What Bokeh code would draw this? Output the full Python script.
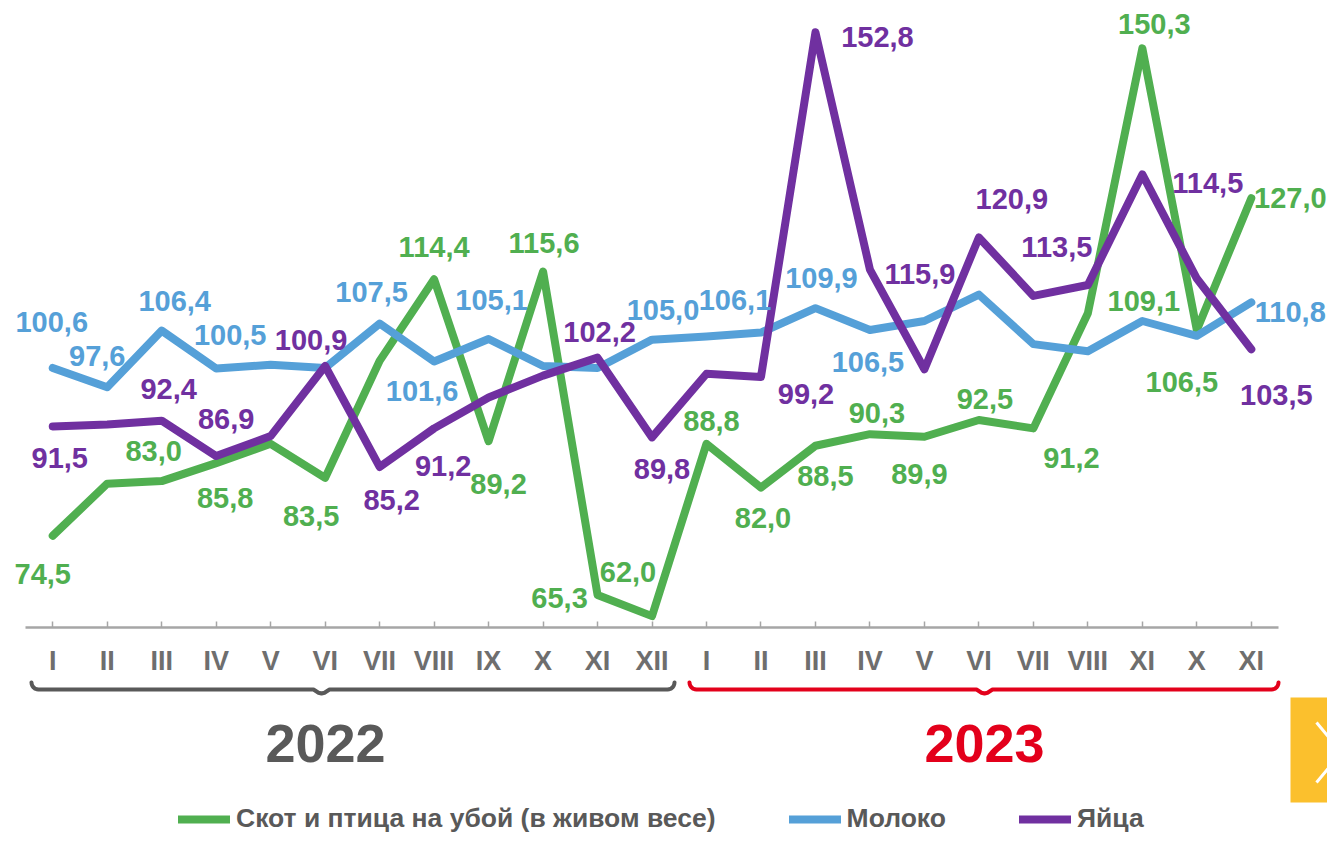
from bokeh.plotting import figure
from bokeh.models import Range1d, FixedTicker, ColumnDataSource, Legend, LegendItem
from bokeh.embed import file_html
from bokeh.resources import INLINE
from bokeh.core.properties import value
import math

# ---------------- data ----------------
months_2022 = ["I", "II", "III", "IV", "V", "VI", "VII", "VIII", "IX", "X", "XI", "XII"]
months_2023 = ["I", "II", "III", "IV", "V", "VI", "VII", "VIII", "XI", "X", "XI"]
tick_labels = months_2022 + months_2023
years = ["2022", "2023"]
series_names = ["Скот и птица на убой (в живом весе)", "Молоко", "Яйца"]

livestock = [74.5, 82.6, 83.0, 85.8, 88.8, 83.5, 101.7, 114.4, 89.2, 115.6, 65.3, 62.0,
             88.8, 82.0, 88.5, 90.3, 89.9, 92.5, 91.2, 109.1, 150.3, 106.5, 127.0]
milk = [100.6, 97.6, 106.4, 100.5, 101.1, 100.6, 107.5, 101.6, 105.1, 100.9, 100.6, 105.0,
        105.5, 106.1, 109.9, 106.5, 107.9, 112.0, 104.3, 103.2, 107.9, 105.6, 110.8]
eggs = [91.5, 91.8, 92.4, 86.9, 90.0, 100.9, 85.2, 91.2, 96.0, 99.4, 102.2, 89.8,
        99.7, 99.2, 152.8, 115.9, 100.4, 120.9, 111.8, 113.5, 130.7, 114.5, 103.5]

# which points carry a value label in the original
livestock_labelled = [0, 2, 3, 5, 7, 8, 9, 10, 11, 12, 13, 14, 15, 16, 17, 18, 19, 20, 21, 22]
milk_labelled = [0, 1, 2, 3, 6, 7, 8, 11, 13, 14, 15, 22]
eggs_labelled = [0, 2, 3, 5, 6, 7, 10, 11, 13, 14, 15, 17, 19, 21, 22]

# ---------------- layout / style ----------------
GREEN = "#50AF50"
BLUE = "#55A0D8"
PURPLE = "#7030A0"
RED = "#E3001B"
DARK = "#595959"

# label offsets (pixels) per labelled point
livestock_off = {0: (-10, 38), 2: (-8, -30), 3: (9, 35), 5: (-14, 38), 7: (0, -32), 8: (10, 43),
                 9: (1, -28), 10: (-38, 3), 11: (-24, -44), 12: (5, -23), 13: (2, 30), 14: (10, 30),
                 15: (7, -21), 16: (-5, 37), 17: (6, -21), 18: (38, 30), 19: (56, -12), 20: (12, -24),
                 21: (-15, 52), 22: (39, 0)}
milk_off = {0: (-1, -46), 1: (-10, -31), 2: (13, -30), 3: (14, -34), 6: (-8, -32), 7: (-12, 29),
            8: (3, -39), 11: (11, -30), 13: (-26, -33), 14: (6, -30), 15: (-2, 32), 22: (39, 10)}
eggs_off = {0: (7, 32), 2: (7, -32), 3: (10, -37), 5: (-14, -26), 6: (12, 33), 7: (9, 38),
            10: (2, -26), 11: (10, 32), 13: (45, 17), 14: (62, 5), 15: (50, 4), 17: (33, -38),
            19: (-31, -38), 21: (11, -96), 22: (25, 46)}

# pixel calibration (figure pixels)
X0, DX = 52.24, 54.48      # centre of first category, category width
Y0, V0, DY = 371.3, 100.0, 6.43


def px2x(px):
    return (px - X0) / DX


def py2v(py):
    return V0 - (py - Y0) / DY


W, H = 1327, 834
n = len(tick_labels)
xs = list(range(n))

p = figure(width=W, height=H, output_backend="svg", toolbar_location=None,
           x_range=Range1d(px2x(0), px2x(W)), y_range=Range1d(py2v(H), py2v(0)),
           min_border=0, min_border_left=0, min_border_right=0, min_border_top=0, min_border_bottom=0)
p.outline_line_color = None
p.xgrid.visible = False
p.ygrid.visible = False
p.yaxis.visible = False
p.background_fill_color = "white"

ax = p.xaxis[0]
ax.fixed_location = py2v(627)
ax.bounds = (-0.5, n - 0.5)
ax.ticker = FixedTicker(ticks=xs)
ax.major_label_overrides = {i: lab for i, lab in enumerate(tick_labels)}
ax.axis_line_color = "#A6A6A6"
ax.axis_line_width = 2.5
ax.major_tick_line_color = "#A6A6A6"
ax.major_tick_line_width = 1.5
ax.major_tick_in = 6
ax.major_tick_out = 0
ax.minor_tick_line_color = None
ax.major_label_text_font = "Liberation Sans"
ax.major_label_text_font_style = "bold"
ax.major_label_text_font_size = "27px"
ax.major_label_text_color = "#6E6E6E"
ax.major_label_standoff = 18

renderers = []
for vals, col in [(livestock, GREEN), (milk, BLUE), (eggs, PURPLE)]:
    r = p.line(xs, vals, line_color=col, line_width=8, line_join="round", line_cap="round")
    renderers.append(r)

for vals, idxs, offs, col in [(livestock, livestock_labelled, livestock_off, GREEN),
                              (milk, milk_labelled, milk_off, BLUE),
                              (eggs, eggs_labelled, eggs_off, PURPLE)]:
    src = ColumnDataSource(dict(
        x=[xs[i] for i in idxs],
        y=[vals[i] for i in idxs],
        text=[f"{vals[i]:.1f}".replace(".", ",") for i in idxs],
        dx=[offs[i][0] for i in idxs],
        dy=[offs[i][1] for i in idxs],
    ))
    p.text(x="x", y="y", text="text", x_offset="dx", y_offset="dy", source=src,
           text_color=col, text_font=value("Liberation Sans"), text_font_style="bold",
           text_font_size="29px", text_align="center", text_baseline="middle")


# ---------------- braces under the axis ----------------
def brace(left, right, mid, y, r=7, notch=4):
    pts = []
    for k in range(7):
        t = math.pi / 2 * k / 6
        pts.append((left + r - r * math.cos(t), y - r + r * math.sin(t)))
    pts.append((mid - 8, y))
    pts.append((mid - 3, y + notch * 0.8))
    pts.append((mid, y + notch))
    pts.append((mid + 3, y + notch * 0.8))
    pts.append((mid + 8, y))
    for k in range(7):
        t = math.pi / 2 * k / 6
        pts.append((right - r + r * math.sin(t), y - r + r * math.cos(t)))
    return [px2x(a) for a, b in pts], [py2v(b) for a, b in pts]


bx1, by1 = brace(31, 674, 321, 689)
bx2, by2 = brace(689, 1278, 984, 689)
p.line(bx1, by1, line_color=DARK, line_width=4, line_cap="round", line_join="round")
p.line(bx2, by2, line_color=RED, line_width=4, line_cap="round", line_join="round")

p.text(x=[px2x(325), px2x(984)], y=[py2v(743), py2v(743)], text=years,
       text_color=[DARK, RED], text_font=value("Liberation Sans"), text_font_style="bold",
       text_font_size="54px", text_align="center", text_baseline="middle")

# navigation tab at right edge
p.quad(left=[px2x(1290)], right=[px2x(1360)], top=[py2v(697)], bottom=[py2v(802)],
       fill_color="#FBC02D", line_color=None)
p.line([px2x(1316), px2x(1341), px2x(1316)], [py2v(722), py2v(752), py2v(782)],
       line_color="white", line_width=3)

# ---------------- legend ----------------
legend = Legend(items=[LegendItem(label=series_names[i], renderers=[renderers[i]]) for i in range(3)],
                orientation="horizontal", location=(178, 0),
                glyph_width=52, glyph_height=20, label_height=20, label_standoff=6, spacing=73,
                padding=0, margin=0, border_line_color=None, background_fill_alpha=0,
                label_text_font="Liberation Sans", label_text_font_style="bold",
                label_text_font_size="26.5px", label_text_color=DARK)
p.add_layout(legend)

open("out.html", "w").write(file_html(p, INLINE))
